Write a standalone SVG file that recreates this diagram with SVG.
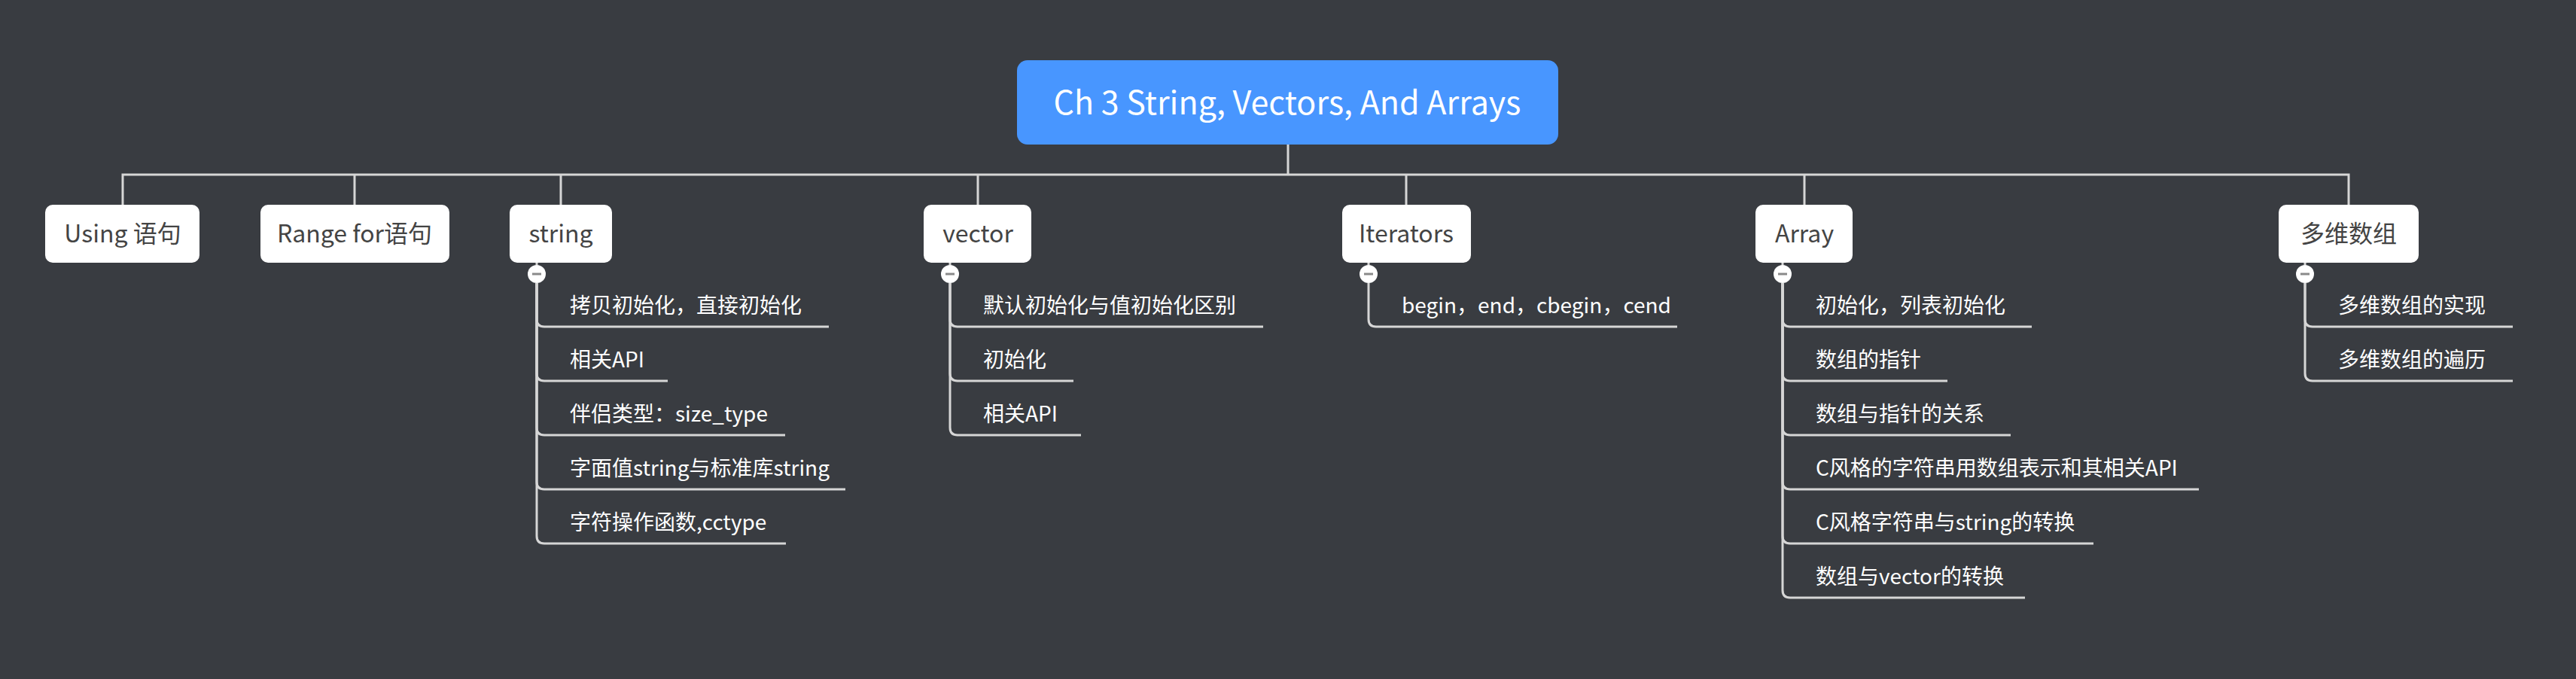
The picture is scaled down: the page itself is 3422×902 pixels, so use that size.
<svg xmlns="http://www.w3.org/2000/svg" width="3422" height="902" viewBox="0 0 3422 902">
<style>
.bg{fill:#393C41}
.node rect{fill:#FFFFFF}
.node text{font-family:"Noto Sans CJK SC","Noto Sans",sans-serif;font-size:32px;fill:#444444;text-anchor:middle}
.root rect{fill:#4896FF}
.root text{font-family:"Noto Sans CJK SC","Noto Sans",sans-serif;font-size:43px;fill:#FFFFFF;text-anchor:middle}
.conn path,.conn line{fill:none;stroke:#D6D6D6;stroke-width:3}
.leaf text{font-family:"Noto Sans CJK SC","Noto Sans",sans-serif;font-size:28px;fill:#FFFFFF}
.tog circle{fill:#FFFFFF}
.tog line{stroke:#8A8A8A;stroke-width:3}
</style>
<rect class="bg" x="0" y="0" width="3422" height="902"/>
<g id="connectors" class="conn">
<path d="M1711,192 V232 M163,272 V232 H3120 V272 M471,232 V272 M745,232 V272 M1299,232 V272 M1868,232 V272 M2397,232 V272"/>
<line x1="713" y1="349" x2="713" y2="352"/>
<path d="M713,376 V424 Q713,434 723,434 H1101"/>
<path d="M713,376 V496 Q713,506 723,506 H887"/>
<path d="M713,376 V568 Q713,578 723,578 H1043"/>
<path d="M713,376 V640 Q713,650 723,650 H1123"/>
<path d="M713,376 V712 Q713,722 723,722 H1044"/>
<line x1="1262" y1="349" x2="1262" y2="352"/>
<path d="M1262,376 V424 Q1262,434 1272,434 H1678"/>
<path d="M1262,376 V496 Q1262,506 1272,506 H1426"/>
<path d="M1262,376 V568 Q1262,578 1272,578 H1436"/>
<line x1="1818" y1="349" x2="1818" y2="352"/>
<path d="M1818,376 V424 Q1818,434 1828,434 H2228"/>
<line x1="2368" y1="349" x2="2368" y2="352"/>
<path d="M2368,376 V424 Q2368,434 2378,434 H2699"/>
<path d="M2368,376 V496 Q2368,506 2378,506 H2587"/>
<path d="M2368,376 V568 Q2368,578 2378,578 H2671"/>
<path d="M2368,376 V640 Q2368,650 2378,650 H2921"/>
<path d="M2368,376 V712 Q2368,722 2378,722 H2781"/>
<path d="M2368,376 V784 Q2368,794 2378,794 H2690"/>
<line x1="3062" y1="349" x2="3062" y2="352"/>
<path d="M3062,376 V424 Q3062,434 3072,434 H3338"/>
<path d="M3062,376 V496 Q3062,506 3072,506 H3338"/>
</g>
<g id="root" class="root"><rect x="1351" y="80" width="719" height="112" rx="14"/><text x="1710" y="152">Ch 3 String, Vectors, And Arrays</text></g>
<g id="n-using" class="node"><rect x="60" y="272" width="205" height="77" rx="10"/><text x="163" y="322">Using 语句</text></g>
<g id="n-range" class="node"><rect x="346" y="272" width="251" height="77" rx="10"/><text x="471" y="322">Range for语句</text></g>
<g id="n-string" class="node"><rect x="677" y="272" width="136" height="77" rx="10"/><text x="745" y="322">string</text></g>
<g id="n-vector" class="node"><rect x="1227" y="272" width="143" height="77" rx="10"/><text x="1299" y="322">vector</text></g>
<g id="n-iter" class="node"><rect x="1783" y="272" width="171" height="77" rx="10"/><text x="1868" y="322">Iterators</text></g>
<g id="n-array" class="node"><rect x="2332" y="272" width="129" height="77" rx="10"/><text x="2397" y="322">Array</text></g>
<g id="n-multi" class="node"><rect x="3027" y="272" width="186" height="77" rx="10"/><text x="3120" y="322">多维数组</text></g>
<g id="t-string" class="tog"><circle cx="713" cy="364" r="12"/><line x1="707" y1="364" x2="719" y2="364"/></g>
<g id="t-vector" class="tog"><circle cx="1262" cy="364" r="12"/><line x1="1256" y1="364" x2="1268" y2="364"/></g>
<g id="t-iter" class="tog"><circle cx="1818" cy="364" r="12"/><line x1="1812" y1="364" x2="1824" y2="364"/></g>
<g id="t-array" class="tog"><circle cx="2368" cy="364" r="12"/><line x1="2362" y1="364" x2="2374" y2="364"/></g>
<g id="t-multi" class="tog"><circle cx="3062" cy="364" r="12"/><line x1="3056" y1="364" x2="3068" y2="364"/></g>
<g id="s1" class="leaf"><text x="757" y="416">拷贝初始化，直接初始化</text></g>
<g id="s2" class="leaf"><text x="757" y="488">相关API</text></g>
<g id="s3" class="leaf"><text x="757" y="560">伴侣类型：size_type</text></g>
<g id="s4" class="leaf"><text x="757" y="632">字面值string与标准库string</text></g>
<g id="s5" class="leaf"><text x="757" y="704">字符操作函数,cctype</text></g>
<g id="v1" class="leaf"><text x="1306" y="416">默认初始化与值初始化区别</text></g>
<g id="v2" class="leaf"><text x="1306" y="488">初始化</text></g>
<g id="v3" class="leaf"><text x="1306" y="560">相关API</text></g>
<g id="i1" class="leaf"><text x="1862" y="416">begin，end，cbegin，cend</text></g>
<g id="a1" class="leaf"><text x="2412" y="416">初始化，列表初始化</text></g>
<g id="a2" class="leaf"><text x="2412" y="488">数组的指针</text></g>
<g id="a3" class="leaf"><text x="2412" y="560">数组与指针的关系</text></g>
<g id="a4" class="leaf"><text x="2412" y="632">C风格的字符串用数组表示和其相关API</text></g>
<g id="a5" class="leaf"><text x="2412" y="704">C风格字符串与string的转换</text></g>
<g id="a6" class="leaf"><text x="2412" y="776">数组与vector的转换</text></g>
<g id="m1" class="leaf"><text x="3106" y="416">多维数组的实现</text></g>
<g id="m2" class="leaf"><text x="3106" y="488">多维数组的遍历</text></g>
</svg>
